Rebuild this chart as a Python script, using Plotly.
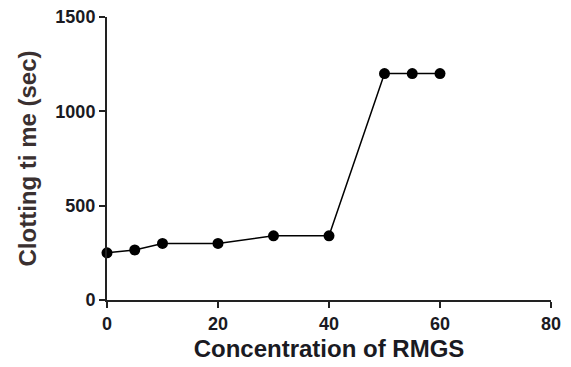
import plotly.graph_objects as go

concentration = [0, 5, 10, 20, 30, 40, 50, 55, 60]
clotting_time = [250, 265, 300, 300, 340, 340, 1200, 1200, 1200]
x_ticks = [0, 20, 40, 60, 80]
y_ticks = [0, 500, 1000, 1500]

FONT = "Liberation Sans, Arial"

fig = go.Figure()
fig.add_trace(go.Scatter(
    x=concentration, y=clotting_time, mode="lines+markers",
    line=dict(color="black", width=1.5),
    marker=dict(color="black", size=11, symbol="circle"),
    cliponaxis=False, showlegend=False,
))

axis_common = dict(
    showgrid=False, zeroline=False, showline=True, linecolor="#222", linewidth=2,
    ticks="outside", ticklen=6, tickwidth=2, tickcolor="#222", automargin=False,
    ticklabeloverflow="allow",
    tickfont=dict(family=FONT, size=18, color="#1a1a22", weight="bold"),
)
fig.update_xaxes(range=[0, 80], tickvals=x_ticks,
                 title=dict(text="Concentration of RMGS", standoff=8,
                            font=dict(family=FONT, size=24, color="#1a1a22", weight="bold")),
                 **axis_common)
fig.update_yaxes(range=[0, 1500], tickvals=y_ticks,
                 title=dict(text="Clotting ti me (sec)", standoff=12,
                            font=dict(family=FONT, size=24, color="#3a3030", weight="bold")),
                 **axis_common)

fig.update_layout(
    width=571, height=367,
    margin=dict(l=99, r=28, t=9, b=75),
    plot_bgcolor="white", paper_bgcolor="white",
)
fig.write_html("out.html")
